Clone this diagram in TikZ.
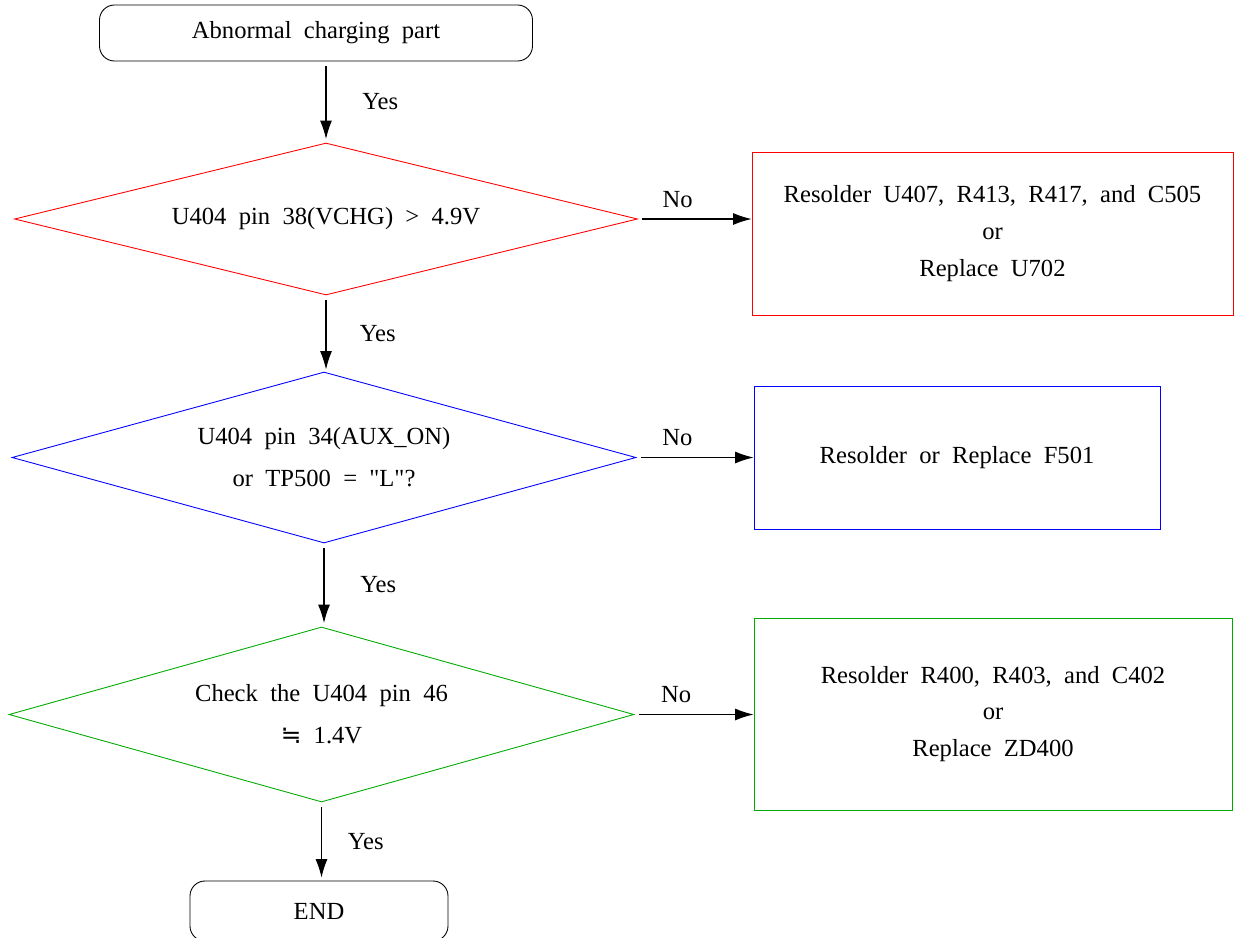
\documentclass[tikz,border=0pt]{standalone}
\usepackage{fontspec}
\setmainfont{Liberation Serif}
\newfontfamily\symb{DejaVu Sans}
\usetikzlibrary{shapes.geometric,arrows.meta,positioning}
\definecolor{chkred}{RGB}{255,0,0}
\definecolor{chkblue}{RGB}{0,0,255}
\definecolor{chkgreen}{RGB}{0,170,0}
\tikzset{
  term/.style={draw, rounded corners=0.3cm, line width=0.5pt, minimum height=1.12cm},
  decide/.style={draw, diamond, line width=0.5pt, align=center, inner sep=0pt},
  fixbox/.style={draw, rectangle, line width=0.5pt, align=center},
  flow/.style={line width=0.6pt, -{Latex[length=10.5pt,width=6.8pt]}, shorten <=0.09cm}
}
\begin{document}
\begin{tikzpicture}[font=\fontsize{14}{17}\selectfont]
  \useasboundingbox (0,0) rectangle (24.7,-18.76);
  % start and end
  \node [term, minimum width=8.66cm] (start) at (6.32,-0.66) {Abnormal\ \ charging\ \ part};
  \node [term, minimum width=5.16cm, minimum height=1.2cm] (stop) at (6.38,-18.22) {END};
  % checks
  \node [decide, draw=chkred, aspect=4.1, minimum width=12.46cm, minimum height=3.04cm] (dvchg) at (6.52,-4.38)
    {U404\ \ pin\ \ 38(VCHG)\ \ >\ \ 4.9V};
  \node [decide, draw=chkblue, aspect=3.65, minimum width=12.48cm, minimum height=3.42cm] (daux) at (6.48,-9.15)
    {U404\ \ pin\ \ 34(AUX\_ON)\\[7pt] or\ \ TP500\ \ =\ \ \textquotedbl L\textquotedbl ?};
  \node [decide, draw=chkgreen, aspect=3.57, minimum width=12.5cm, minimum height=3.5cm] (dpin) at (6.43,-14.29)
    {Check\ \ the\ \ U404\ \ pin\ \ 46\\[7pt] {\symb ≒}\ \ 1.4V};
  % repairs
  \node [fixbox, draw=chkred, minimum width=9.62cm, minimum height=3.26cm] (fixvchg) at (19.85,-4.67)
    {Resolder\ \ U407,\ \ R413,\ \ R417,\ \ and\ \ C505\\[4pt] or\\[4pt] Replace\ \ U702};
  \node [fixbox, draw=chkblue, minimum width=8.12cm, minimum height=2.86cm] (fixaux) at (19.14,-9.15)
    {Resolder\ \ or\ \ Replace\ \ F501};
  \node [fixbox, draw=chkgreen, minimum width=9.56cm, minimum height=3.84cm] (fixpin) at (19.86,-14.28)
    {Resolder\ \ R400,\ \ R403,\ \ and\ \ C402\\[4pt] or\\[4pt] Replace\ \ ZD400};
  % yes path
  \draw [flow, shorten >=0.07cm] (start.south -| dvchg.north) -- node[midway, right=0.6cm] {Yes} (dvchg.north);
  \draw [flow, shorten >=0.04cm] (dvchg.south) -- node[midway, right=0.55cm] {Yes} (dvchg.south |- daux.north);
  \draw [flow, shorten >=0.07cm] (daux.south) -- node[midway, right=0.6cm] {Yes} (daux.south |- dpin.north);
  \draw [flow, shorten >=0.06cm] (dpin.south) -- node[midway, right=0.4cm] {Yes} (dpin.south |- stop.north);
  % no path
  \draw [flow] (dvchg.east) -- node[pos=0.35, above=0.1cm] {No} (dvchg.east -| fixvchg.west);
  \draw [flow] (daux.east) -- node[pos=0.35, above=0.1cm] {No} (daux.east -| fixaux.west);
  \draw [flow] (dpin.east) -- node[pos=0.35, above=0.1cm] {No} (dpin.east -| fixpin.west);
\end{tikzpicture}
\end{document}
